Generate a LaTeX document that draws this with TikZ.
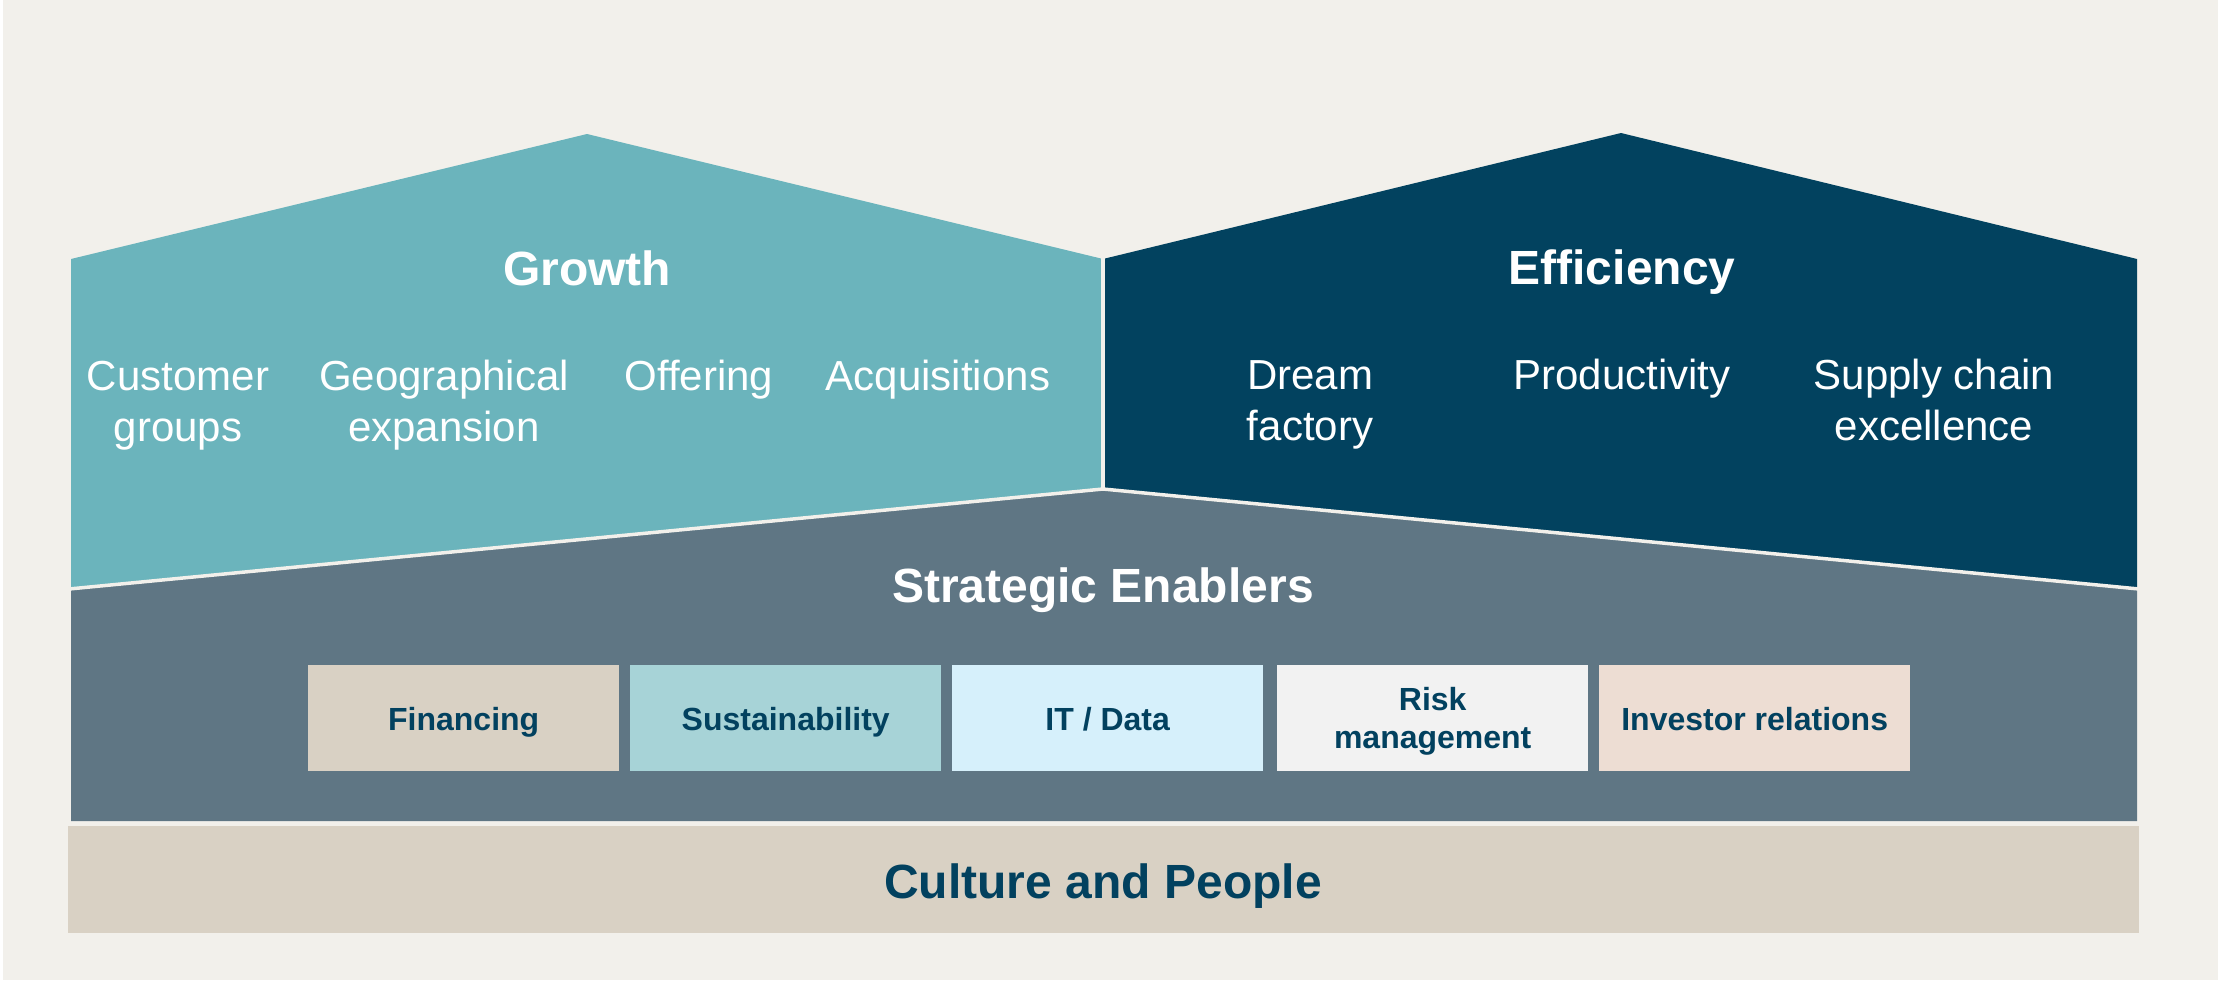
\documentclass[tikz,border=0pt]{standalone}
\usepackage{fontspec}
\setmainfont{Liberation Sans}
\definecolor{pagebg}{HTML}{F2F0EB}
\definecolor{growthfill}{HTML}{6BB4BC}
\definecolor{efficiencyfill}{HTML}{02425F}
\definecolor{enablerfill}{HTML}{5F7684}
\definecolor{culturefill}{HTML}{D9D1C4}
\definecolor{sustainfill}{HTML}{A7D3D7}
\definecolor{itfill}{HTML}{D6F0FB}
\definecolor{riskfill}{HTML}{F2F2F2}
\definecolor{investorfill}{HTML}{EDDDD3}
\definecolor{navytext}{HTML}{02415F}
\tikzset{
  headline/.style={font=\fontsize{48}{56}\selectfont\bfseries, text=white, inner sep=0pt, anchor=base},
  pillar/.style={font=\fontsize{42}{51}\selectfont, text=white, align=center, inner sep=0pt, anchor=base},
  enabler/.style={minimum width=311pt, minimum height=106pt, inner sep=0pt, anchor=north west},
  enablertext/.style={font=\fontsize{32}{38}\selectfont\bfseries, text=navytext, align=center, inner sep=0pt, anchor=base},
  seam/.style={draw=pagebg, line width=3.5pt}
}
\begin{document}
\begin{tikzpicture}[x=1pt, y=-1pt]
\useasboundingbox (0,0) rectangle (2218,980);
\fill[pagebg] (0,0) rectangle (2218,980);
\fill[white] (0,0) rectangle (3,980);

% roofs
\fill[growthfill] (71,259) -- (587,134) -- (1103,259) -- (1103,489) -- (71,589) -- cycle;
\fill[efficiencyfill] (1103,259) -- (1621,133) -- (2137,259) -- (2137,589) -- (1103,489) -- cycle;
% enablers body
\fill[enablerfill] (71,589) -- (1103,489) -- (2137,589) -- (2137,821) -- (71,821) -- cycle;
% seams between the blocks
\draw[seam] (1103,255) -- (1103,489);
\draw[seam] (69,589) -- (1103,489) -- (2139,589);
% foundation
\fill[culturefill] (68,826) rectangle (2139,933);

% headings
\node[headline] (growth) at (587,285) {Growth};
\node[headline] (efficiency) at (1622,284) {Efficiency};
\node[headline] (enablers) at (1103,602) {Strategic Enablers};
\node[headline, text=navytext] (culture) at (1103,898) {Culture and People};

% growth pillars (two-line labels sit on their last baseline)
\node[pillar] (customer) at (178,441) {Customer\\groups};
\node[pillar] (geo) at (444,441) {Geographical\\expansion};
\node[pillar] (offering) at (699,390) {Offering};
\node[pillar] (acq) at (938,390) {Acquisitions};

% efficiency pillars
\node[pillar] (dream) at (1310,440) {Dream\\factory};
\node[pillar] (prod) at (1622,389) {Productivity};
\node[pillar] (supply) at (1934,440) {Supply chain\\excellence};

% enabler boxes
\node[enabler, fill=culturefill] (fin) at (308,665) {};
\node[enabler, fill=sustainfill] (sus) at (630,665) {};
\node[enabler, fill=itfill] (it) at (952,665) {};
\node[enabler, fill=riskfill] (risk) at (1277,665) {};
\node[enabler, fill=investorfill] (inv) at (1599,665) {};
\node[enablertext] (fint) at ([yshift=-12pt]fin.center) {Financing};
\node[enablertext] (sust) at ([yshift=-12pt]sus.center) {Sustainability};
\node[enablertext] (itt) at ([yshift=-12pt]it.center) {IT / Data};
\node[enablertext] (riskt) at ([yshift=-30pt]risk.center) {Risk\\management};
\node[enablertext] (invt) at ([yshift=-12pt]inv.center) {Investor relations};
\end{tikzpicture}
\end{document}
